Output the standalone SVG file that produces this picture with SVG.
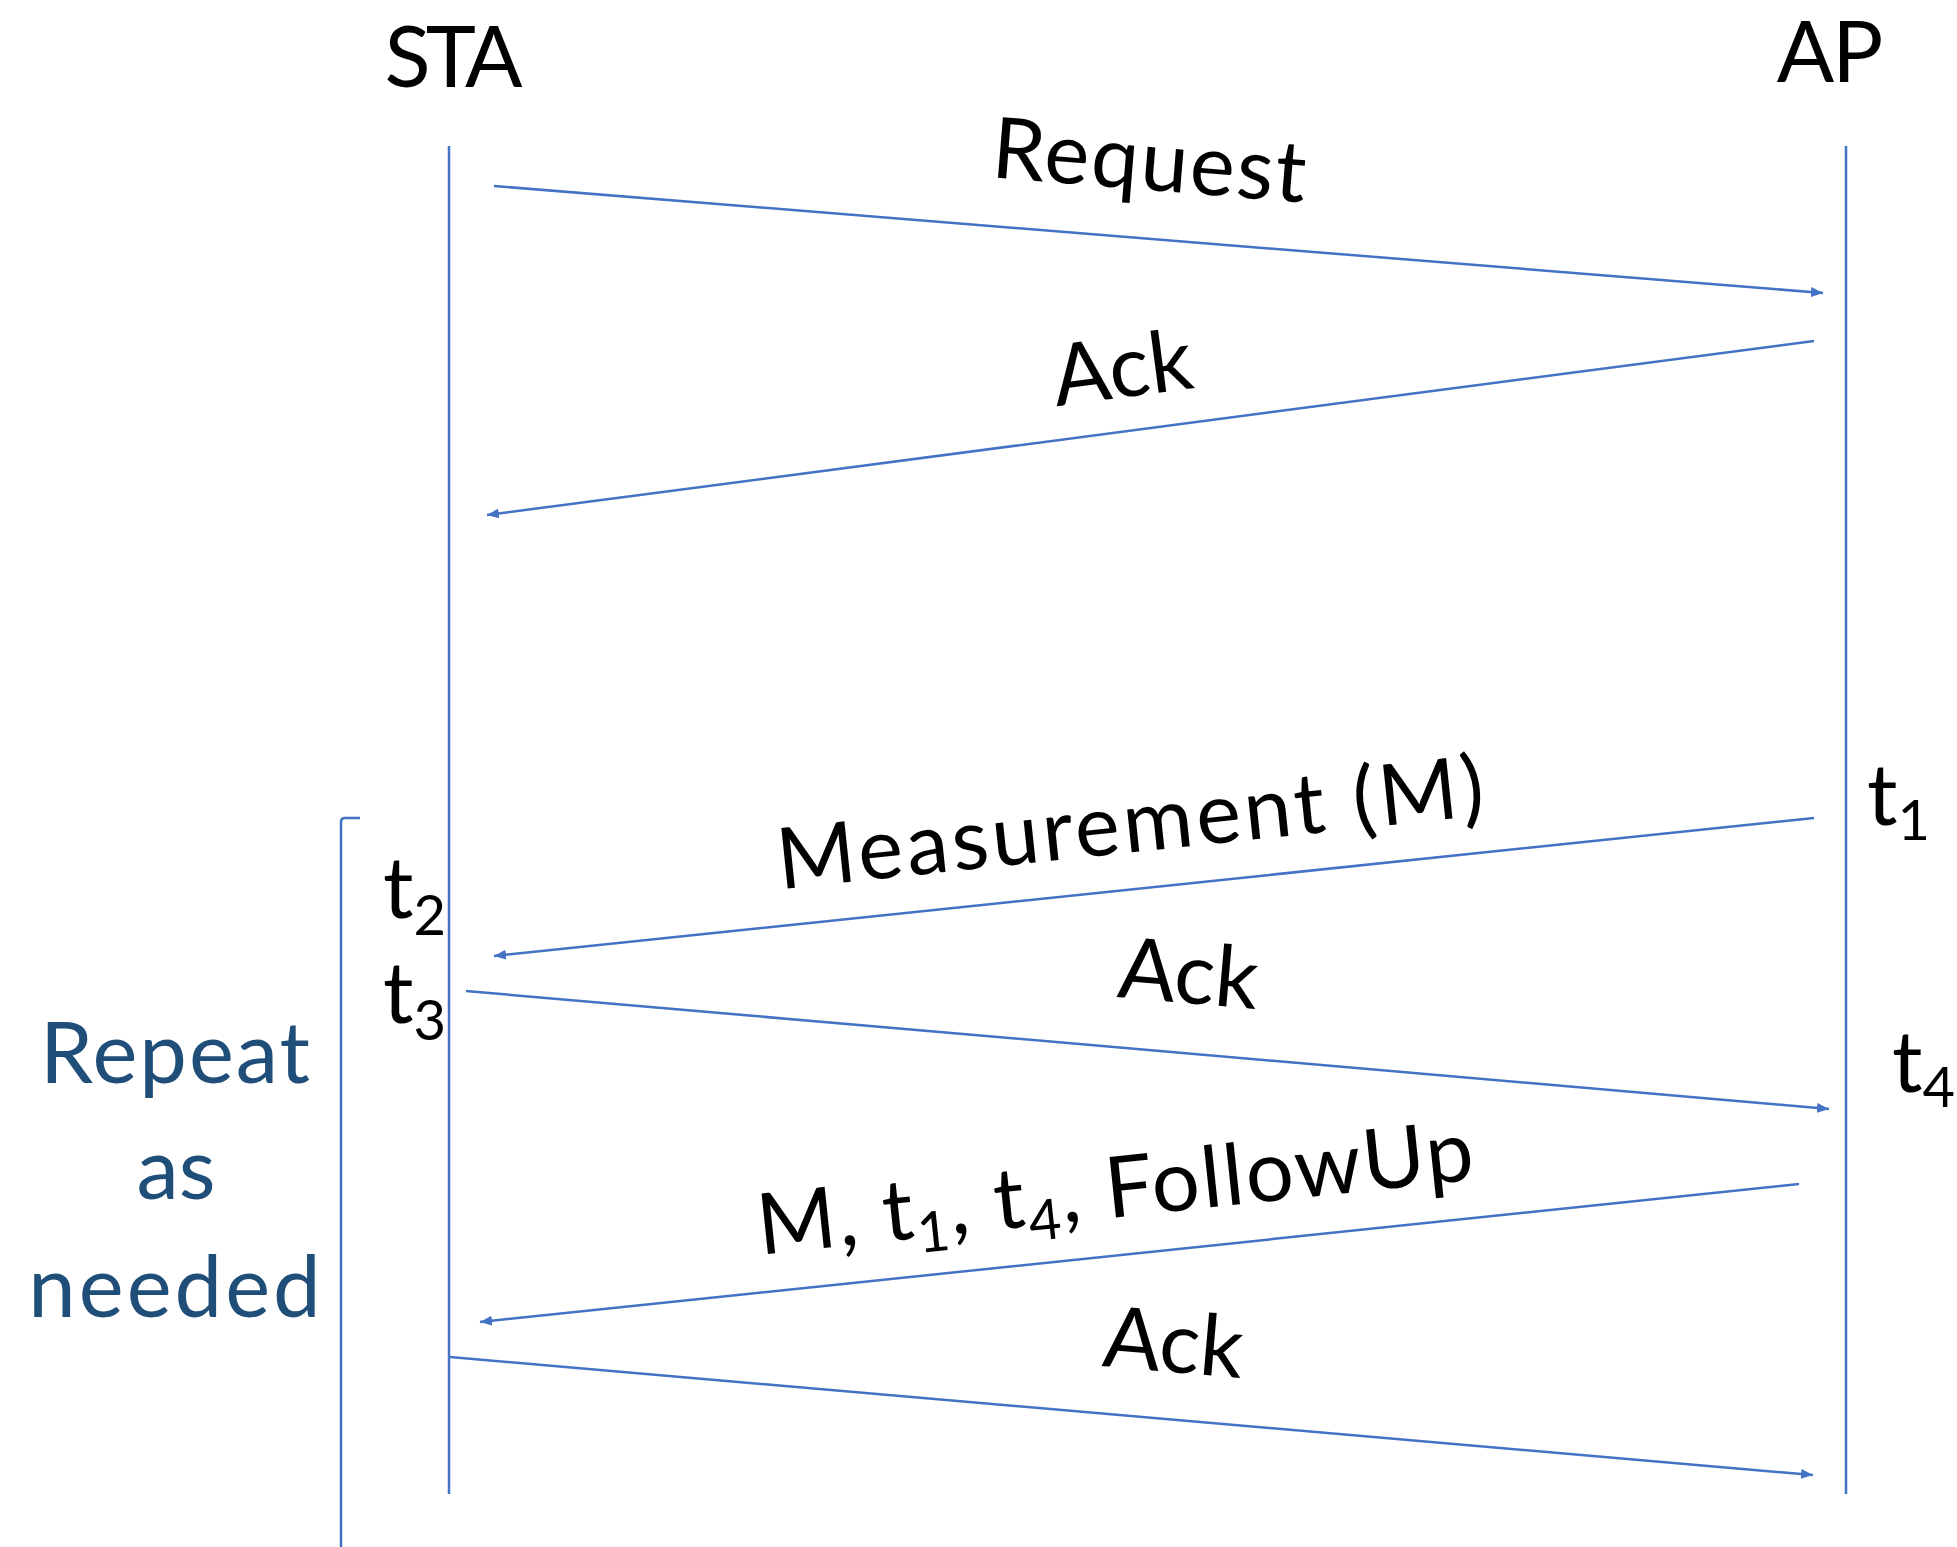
<svg xmlns="http://www.w3.org/2000/svg" width="1957" height="1547" viewBox="0 0 1957 1547">
<style>
.t{font-family:Lato,"Open Sans","Liberation Sans",sans-serif;font-size:85px;fill:#000}
.r{font-family:Lato,"Open Sans","Liberation Sans",sans-serif;font-size:85px;fill:#1F4E79;text-anchor:middle}
.ln{stroke:#4472C4;stroke-width:2.5;fill:none}
.ar{stroke:#4472C4;stroke-width:2.5;fill:none;marker-end:url(#ah)}
.m{text-anchor:middle}
.s{font-size:56px}
</style>
<defs>
<marker id="ah" markerUnits="userSpaceOnUse" markerWidth="13" markerHeight="11" refX="12" refY="5" orient="auto">
<path d="M0,0 L12,5 L0,10 z" fill="#4472C4"/>
</marker>
</defs>
<rect width="1957" height="1547" fill="#fff"/>
<g id="sta">
<text class="t m" x="451" y="87" letter-spacing="-5">STA</text>
<line class="ln" x1="449" y1="146" x2="449" y2="1494"/>
</g>
<g id="ap">
<text class="t m" x="1829" y="82" letter-spacing="-2">AP</text>
<line class="ln" x1="1846" y1="146" x2="1846" y2="1494"/>
</g>
<g id="repeat">
<path class="ln" d="M360,818 L345,818 Q341,818 341,822 L341,1547"/>
<text class="r" x="176" y="1083" letter-spacing="2">Repeat</text>
<text class="r" x="176" y="1199">as</text>
<text class="r" x="176" y="1317" letter-spacing="3">needed</text>
</g>
<g id="timestamps">
<text class="t" x="383" y="918">t<tspan class="s" dy="17">2</tspan></text>
<text class="t" x="383" y="1023">t<tspan class="s" dy="17">3</tspan></text>
<text class="t" x="1867" y="825">t<tspan class="s" dy="15">1</tspan></text>
<text class="t" x="1892" y="1092">t<tspan class="s" dy="15">4</tspan></text>
</g>
<g id="connectors">
<line class="ar" x1="494" y1="186" x2="1823" y2="293"/>
<line class="ar" x1="1814" y1="341" x2="487" y2="515"/>
<line class="ar" x1="1814" y1="818" x2="494" y2="956"/>
<line class="ar" x1="466" y1="991" x2="1829" y2="1109"/>
<line class="ar" x1="1799" y1="1184" x2="480" y2="1322"/>
<line class="ar" x1="450" y1="1357" x2="1813" y2="1475"/>
</g>
<g id="labels">
<text class="t m" x="1148" y="190" transform="rotate(4.6 1148 190)" letter-spacing="2">Request</text>
<text class="t m" x="1126" y="397" transform="rotate(-7.5 1126 397)">Ack</text>
<text class="t m" x="1135" y="852" transform="rotate(-6 1135 852)" letter-spacing="3.5">Measurement (M)</text>
<text class="t m" x="1186" y="1003" transform="rotate(5 1186 1003)">Ack</text>
<text class="t m" x="1119" y="1217" transform="rotate(-6 1119 1217)" letter-spacing="2">M, t<tspan class="s" dy="15">1</tspan><tspan dy="-15">, t</tspan><tspan class="s" dy="15">4</tspan><tspan dy="-15">, FollowUp</tspan></text>
<text class="t m" x="1171" y="1372" transform="rotate(5 1171 1372)">Ack</text>
</g>
</svg>
